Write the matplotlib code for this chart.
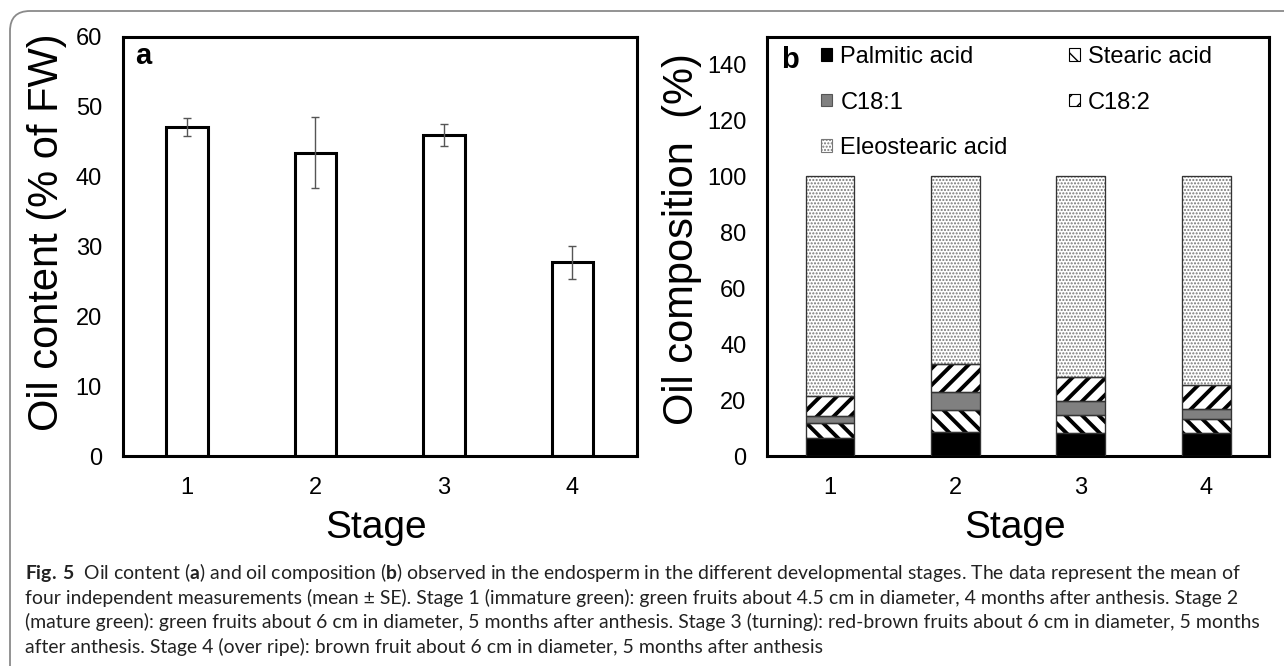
import matplotlib
matplotlib.use('Agg')
import matplotlib.pyplot as plt
import numpy as np
from matplotlib.patches import FancyBboxPatch

plt.rcParams['font.family'] = ['Liberation Sans', 'DejaVu Sans']
plt.rcParams['mathtext.fontset'] = 'custom'
plt.rcParams['mathtext.rm'] = 'Lato'
plt.rcParams['mathtext.bf'] = 'Lato:bold'

# panel a: oil content (% of FW), mean and SE
stages = ['1', '2', '3', '4']
oil_content = [47.1, 43.4, 45.9, 27.7]
oil_se = [1.3, 5.1, 1.6, 2.4]

# panel b: oil composition (%)
palmitic = [6.5, 8.7, 8.3, 8.3]
stearic = [5.4, 7.9, 6.5, 5.1]
c181 = [2.3, 6.3, 5.0, 3.4]
c182 = [7.4, 10.0, 8.3, 8.5]
eleostearic = [78.4, 67.1, 71.9, 74.7]

caption_lines = [
    r"$\mathbf{Fig.\,5}$  Oil content ($\mathbf{a}$) and oil composition ($\mathbf{b}$) observed in the endosperm "
    r"in the different developmental stages. The data represent the mean of",
    "four independent measurements (mean \u00b1 SE). Stage 1 (immature green): green fruits about 4.5 cm in "
    "diameter, 4 months after anthesis. Stage 2",
    "(mature green): green fruits about 6 cm in diameter, 5 months after anthesis. Stage 3 (turning): "
    "red-brown fruits about 6 cm in diameter, 5 months",
    "after anthesis. Stage 4 (over ripe): brown fruit about 6 cm in diameter, 5 months after anthesis",
]

fig = plt.figure(figsize=(12.84, 6.66), dpi=100)
ax_a = fig.add_axes([0.0956, 0.3153, 0.4003, 0.6296])
ax_b = fig.add_axes([0.5976, 0.3153, 0.3907, 0.6296])
x = np.arange(1, len(stages) + 1)

# ---- panel a
ax_a.bar(x, oil_content, width=0.32, color='white', edgecolor='black', linewidth=2.2, zorder=2)
ax_a.errorbar(x, oil_content, yerr=oil_se, fmt='none', ecolor='#555555',
              elinewidth=1, capsize=3, capthick=1, zorder=3)
ax_a.set_ylim(0, 60)
ax_a.set_yticks(np.arange(0, 61, 10))
ax_a.set_ylabel('Oil content (% of FW)', fontsize=30)
ax_a.yaxis.set_label_coords(-0.108, 0.534)
ax_a.text(0.024, 0.955, 'a', transform=ax_a.transAxes, fontsize=21, fontweight='bold',
          ha='left', va='center')

# ---- panel b (stacked)
width_b = 0.39
layers = [
    (palmitic, 'Palmitic acid', dict(color='black', edgecolor='black'), 1.0),
    (stearic, 'Stearic acid', dict(color='white', edgecolor='black', hatch='\\\\'), 2.8),
    (c181, 'C18:1', dict(color='#808080', edgecolor='#555555'), 1.0),
    (c182, 'C18:2', dict(color='white', edgecolor='black', hatch='//'), 2.8),
    (eleostearic, 'Eleostearic acid', dict(color='white', edgecolor='#777777', hatch='.....'), 1.0),
]
bottom = np.zeros(len(stages))
handles = {}
for vals, name, style, hlw in layers:
    with plt.rc_context({'hatch.linewidth': hlw}):
        h = ax_b.bar(x, vals, width=width_b, bottom=bottom, linewidth=0.8, label=name,
                     zorder=2, **style)
    ax_b.bar(x, vals, width=width_b, bottom=bottom, fill=False, edgecolor='#333333',
             linewidth=0.9, zorder=3)
    handles[name] = h
    bottom = bottom + np.array(vals)

ax_b.set_ylim(0, 150)
ax_b.set_yticks(np.arange(0, 141, 20))
ax_b.set_ylabel('Oil composition  (%)', fontsize=30)
ax_b.yaxis.set_label_coords(-0.130, 0.517)
ax_b.text(0.027, 0.945, 'b', transform=ax_b.transAxes, fontsize=21, fontweight='bold',
          ha='left', va='center')

order = ['Palmitic acid', 'C18:1', 'Eleostearic acid', 'Stearic acid', 'C18:2']
ax_b.legend([handles[k] for k in order], order, ncol=2, loc='upper left',
            bbox_to_anchor=(0.108, 0.978), frameon=False, fontsize=17,
            handlelength=0.45, handleheight=0.45, handletextpad=0.35,
            columnspacing=2.6, labelspacing=1.0, borderpad=0, borderaxespad=0)

for ax in (ax_a, ax_b):
    ax.set_xlim(0.5, 4.5)
    ax.set_xticks(x)
    ax.set_xticklabels(stages)
    ax.tick_params(length=0, labelsize=17, pad=15)
    for sp in ax.spines.values():
        sp.set_linewidth(2.2)
        sp.set_color('black')
    ax.set_xlabel('Stage', fontsize=28)
    ax.xaxis.set_label_coords(0.493, -0.128)

# outer rounded frame
frame = FancyBboxPatch((0.10, -1.0), 14.0, 7.55, boxstyle='round,pad=0,rounding_size=0.2',
                       transform=fig.dpi_scale_trans, fill=False, edgecolor='#8a8a8a', linewidth=1.3)
fig.add_artist(frame)

# caption, sized so the first line spans the measured width
renderer = fig.canvas.get_renderer()
cap_y = [573, 597.5, 622, 646.5]
texts = []
for line, yp in zip(caption_lines, cap_y):
    t = fig.text(25 / 1284, 1 - yp / 666, line, family='Lato', fontsize=14,
                 ha='left', va='center', color='#222222')
    texts.append(t)
w = texts[0].get_window_extent(renderer).width
fs = 14 * 1218 / w
for t in texts:
    t.set_fontsize(fs)

fig.savefig('out.png', dpi=100)
